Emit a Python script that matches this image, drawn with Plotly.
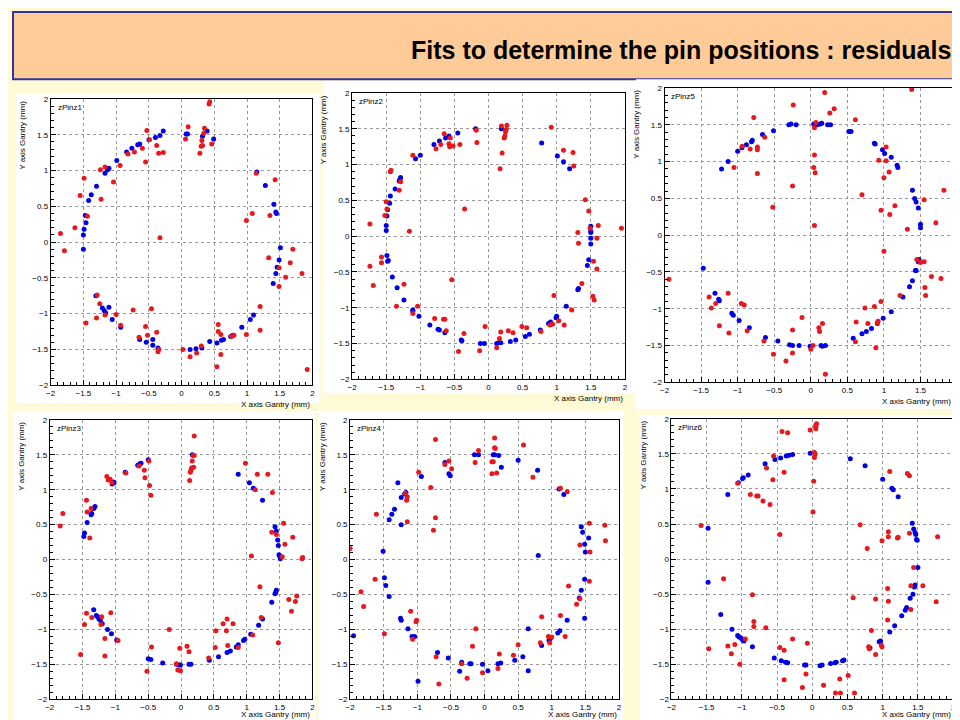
import plotly.graph_objects as go

W, H = 960, 720

pinz1_blue = [(-1.5,-0.1),(-1.5,0.1),(-1.49,0.18),(-1.46,0.27),(-1.47,0.37),(-1.42,0.58),(-1.38,0.66),(-1.3,0.78),(-1.17,0.96),(-1.13,1.01),(-1.11,1.03),(-0.99,1.14),(-0.84,1.26),(-0.76,1.31),(-0.67,1.36),(-0.64,1.37),(-0.5,1.43),(-0.4,1.46),(-0.33,1.49),(-0.28,1.55),(0.07,1.51),(0.09,1.51),(0.32,1.48),(0.39,1.55),(0.49,1.44),(1.15,0.98),(1.28,0.79),(1.41,0.53),(1.44,0.42),(1.45,0.40),(1.51,-0.08),(1.49,-0.25),(1.46,-0.35),(1.44,-0.44),(1.4,-0.58),(1.1,-1.02),(1.05,-1.08),(0.92,-1.19),(0.78,-1.3),(0.75,-1.32),(0.64,-1.36),(0.61,-1.37),(0.54,-1.41),(0.43,-1.39),(0.31,-1.48),(0.22,-1.49),(0.13,-1.5),(-0.36,-1.48),(-0.44,-1.36),(-0.44,-1.44),(-0.54,-1.4),(-0.64,-1.36),(-0.93,-1.19),(-1.06,-1.08),(-1.11,-0.91),(-1.16,-0.99),(-1.18,-0.96),(-1.21,-0.92),(-1.31,-0.75)]
pinz1_red = [(-1.85,0.12),(-1.79,-0.12),(-1.63,0.2),(-1.55,0.65),(-1.49,0.89),(-1.44,0.36),(-1.24,1.01),(-1.23,0.6),(-1.17,1.05),(-1.04,0.84),(-0.94,1.07),(-0.82,1.23),(-0.72,1.26),(-0.6,1.31),(-0.55,1.12),(-0.53,1.56),(-0.49,1.43),(-0.38,1.35),(-0.35,1.24),(-0.28,1.25),(-0.33,0.06),(0.06,1.44),(0.1,1.61),(0.28,1.24),(0.3,1.34),(0.31,1.42),(0.32,1.35),(0.35,1.59),(0.34,1.52),(0.42,1.93),(0.43,1.96),(0.46,1.37),(0.99,0.3),(1.08,0.4),(1.14,0.96),(1.43,0.87),(1.35,0.37),(1.33,-0.22),(1.49,-0.36),(1.49,-0.62),(1.59,-0.49),(1.66,-0.29),(1.7,-0.1),(1.84,-0.44),(1.92,-1.78),(1.2,-0.9),(1.2,-1.23),(0.99,-1.29),(0.8,-1.3),(0.76,-1.32),(0.6,-1.57),(0.6,-1.29),(0.56,-1.25),(0.56,-1.15),(0.54,-1.74),(0.3,-1.45),(0.23,-1.55),(0.13,-1.6),(0.02,-1.5),(-0.36,-1.53),(-0.35,-1.5),(-0.38,-1.26),(-0.46,-0.93),(-0.52,-1.3),(-0.55,-1.18),(-0.65,-1.33),(-0.74,-0.95),(-0.93,-1.16),(-1.0,-1.01),(-1.17,-1.02),(-1.25,-0.86),(-1.29,-0.74),(-1.3,-1.06),(-1.46,-1.13)]

pinz2_blue = [(-1.5,0.08),(-1.5,0.15),(-1.49,0.28),(-1.48,0.37),(-1.45,0.46),(-1.44,0.56),(-1.37,0.66),(-1.3,0.79),(-1.29,0.82),(-1.31,0.77),(-1.07,1.08),(-1.0,1.13),(-0.8,1.28),(-0.72,1.33),(-0.63,1.37),(-0.58,1.4),(-0.45,1.44),(-0.19,1.5),(0.19,1.5),(0.78,1.3),(1.01,1.12),(1.1,1.04),(1.19,0.94),(1.5,0.14),(1.5,0.07),(1.5,0.05),(1.5,-0.03),(1.5,-0.11),(1.47,-0.33),(1.45,-0.41),(1.32,-0.73),(1.31,-0.75),(1.14,-0.98),(1.0,-1.12),(0.99,-1.14),(0.91,-1.2),(0.88,-1.22),(0.76,-1.31),(0.6,-1.37),(0.54,-1.4),(0.4,-1.45),(0.32,-1.47),(0.18,-1.49),(0.15,-1.49),(0.12,-1.5),(-0.06,-1.5),(-0.12,-1.5),(-0.39,-1.46),(-0.4,-1.45),(-0.64,-1.35),(-0.72,-1.31),(-0.74,-1.3),(-0.86,-1.24),(-1.02,-1.12),(-1.11,-1.05),(-1.11,-1.03),(-1.24,-0.89),(-1.34,-0.72),(-1.41,-0.57),(-1.48,-0.35),(-1.47,-0.34),(-1.49,-0.27)]
pinz2_red = [(-1.74,0.17),(-1.74,-0.42),(-1.69,-0.69),(-1.57,-0.29),(-1.57,-0.37),(-1.52,0.29),(-1.5,0.48),(-1.49,0.38),(-1.44,0.9),(-1.43,0.92),(-1.31,0.64),(-1.29,0.76),(-1.16,0.07),(-1.11,1.13),(-0.77,1.22),(-0.7,1.28),(-0.65,1.43),(-0.58,1.29),(-0.56,1.37),(-0.57,1.25),(-0.52,1.26),(-0.42,1.28),(-0.35,0.38),(-0.18,1.48),(-0.17,1.31),(0.17,0.94),(0.19,1.54),(0.2,1.16),(0.23,1.37),(0.24,1.4),(0.25,1.46),(0.26,1.49),(0.27,1.55),(0.92,1.52),(1.1,1.2),(1.24,1.17),(1.25,0.98),(1.42,0.51),(1.47,0.35),(1.49,0.11),(1.31,0.05),(1.32,-0.1),(1.61,0.15),(1.59,-0.03),(1.95,0.11),(1.54,-0.35),(1.59,-0.46),(1.37,-0.66),(1.53,-0.84),(1.55,-0.89),(0.96,-0.83),(1.22,-1.03),(1.11,-1.24),(1.03,-1.18),(0.94,-1.23),(0.9,-1.24),(0.77,-1.33),(0.56,-1.28),(0.49,-1.26),(0.36,-1.35),(0.29,-1.32),(0.18,-1.34),(0.16,-1.43),(0.12,-1.56),(-0.13,-1.6),(-0.05,-1.26),(-0.44,-1.61),(-0.36,-1.36),(-0.54,-0.61),(-0.62,-1.32),(-0.64,-1.16),(-0.66,-1.16),(-0.79,-1.15),(-1.04,-0.98),(-1.11,-1.08),(-1.24,-0.67),(-1.35,-0.98)]

pinz5_blue = [(-1.47,-0.45),(-1.31,-0.79),(-1.26,-0.87),(-1.25,-0.89),(-1.08,-1.06),(-1.06,-1.09),(-0.98,-1.16),(-0.84,-1.26),(-0.62,-1.39),(-0.45,-1.44),(-0.29,-1.49),(-0.25,-1.5),(-0.16,-1.5),(-0.01,-1.51),(0.14,-1.5),(0.16,-1.51),(0.2,-1.5),(0.58,-1.4),(0.7,-1.34),(0.76,-1.31),(0.83,-1.27),(0.91,-1.2),(0.99,-1.13),(1.1,-1.04),(1.26,-0.84),(1.35,-0.7),(1.39,-0.62),(1.43,-0.48),(1.44,-0.48),(1.47,-0.36),(1.48,-0.33),(1.5,0.1),(1.5,0.15),(1.47,0.37),(1.44,0.45),(1.42,0.5),(1.39,0.61),(1.19,0.92),(1.18,0.95),(1.1,1.06),(1.01,1.11),(0.98,1.16),(0.88,1.24),(0.87,1.25),(0.52,1.41),(0.55,1.41),(0.27,1.5),(0.23,1.5),(0.15,1.52),(0.13,1.51),(0.09,1.5),(0.06,1.51),(0.04,1.51),(-0.2,1.5),(-0.27,1.51),(-0.3,1.5),(-0.51,1.42),(-0.66,1.37),(-0.8,1.29),(-0.81,1.27),(-0.88,1.23),(-0.94,1.19),(-1.0,1.14),(-1.13,1.0),(-1.22,0.9)]
pinz5_red = [(-1.94,-0.6),(-1.39,-0.84),(-1.36,-0.99),(-1.3,-0.93),(-1.25,-1.23),(-1.13,-0.79),(-1.12,-1.33),(-0.95,-0.93),(-0.91,-0.95),(-0.87,-1.3),(-0.64,-1.44),(-0.51,-1.62),(-0.34,-1.71),(-0.25,-1.29),(-0.25,-1.6),(-0.12,-1.12),(0.0,-1.55),(0.03,-1.5),(0.11,-1.26),(0.12,-1.31),(0.16,-1.2),(0.2,-1.89),(0.61,-1.45),(0.62,-1.18),(0.74,-0.99),(0.78,-1.2),(0.87,-0.97),(0.89,-1.53),(0.91,-1.19),(0.92,-1.17),(0.96,-0.9),(1.22,-0.82),(1.45,-0.33),(1.5,-0.37),(1.55,-0.36),(1.56,-0.71),(1.57,-0.82),(1.65,-0.56),(1.78,-0.59),(1.0,-0.22),(1.32,0.08),(1.71,0.17),(1.82,0.61),(1.55,0.48),(1.15,0.4),(1.08,0.28),(0.96,0.34),(0.7,0.55),(1.0,0.78),(1.07,0.86),(1.03,1.01),(0.93,1.02),(1.03,1.2),(0.61,1.57),(1.38,1.98),(0.32,1.72),(0.26,1.66),(0.19,1.94),(0.07,1.53),(0.05,1.46),(0.05,1.09),(0.04,0.92),(0.06,0.85),(0.05,0.13),(-0.24,1.77),(-0.25,0.67),(-0.52,0.38),(-0.63,1.33),(-0.73,1.2),(-0.73,1.16),(-0.73,0.84),(-0.78,1.6),(-0.83,1.17),(-0.94,1.21),(-1.05,0.92)]

pinz3_blue = [(-1.48,0.33),(-1.47,0.38),(-1.43,0.53),(-1.37,0.64),(-1.36,0.66),(-1.33,0.73),(-1.31,0.76),(-1.05,1.08),(-1.03,1.11),(-1.02,1.1),(-0.85,1.25),(-0.66,1.35),(-0.63,1.37),(-0.61,1.38),(-0.5,1.43),(0.17,1.5),(0.87,1.22),(1.04,1.1),(1.1,1.02),(1.24,0.85),(1.43,0.47),(1.45,0.41),(1.47,0.28),(1.48,0.2),(1.49,0.07),(1.5,0.05),(1.51,0.01),(1.45,-0.44),(1.44,-0.47),(1.43,-0.49),(1.38,-0.61),(1.24,-0.85),(1.18,-0.94),(1.06,-1.07),(0.97,-1.14),(0.95,-1.16),(0.87,-1.22),(0.84,-1.25),(0.75,-1.31),(0.7,-1.33),(0.57,-1.39),(0.43,-1.44),(0.15,-1.5),(0.12,-1.5),(-0.01,-1.51),(-0.03,-1.51),(-0.07,-1.5),(-0.28,-1.48),(-0.46,-1.43),(-0.5,-1.42),(-0.98,-1.15),(-1.06,-1.06),(-1.12,-1.0),(-1.2,-0.92),(-1.23,-0.87),(-1.25,-0.85),(-1.27,-0.82),(-1.29,-0.8),(-1.33,-0.72)]
pinz3_red = [(-1.84,0.48),(-1.8,0.66),(-1.44,0.85),(-1.43,0.68),(-1.39,0.31),(-1.37,0.73),(-1.13,1.19),(-1.11,1.14),(-1.08,1.15),(-1.05,1.1),(-0.84,1.24),(-0.64,1.34),(-0.56,1.28),(-0.55,1.17),(-0.49,1.41),(-0.48,1.06),(-0.46,0.92),(0.13,1.13),(0.14,1.25),(0.15,1.28),(0.16,1.31),(0.17,1.41),(0.18,1.49),(0.19,1.32),(0.2,1.49),(0.2,1.77),(0.98,1.38),(1.16,1.22),(1.13,1.0),(1.32,1.22),(1.39,0.96),(1.38,0.39),(1.45,0.36),(1.56,0.52),(1.58,0.22),(1.54,0.04),(1.7,0.32),(1.07,0.05),(1.84,0.01),(1.85,0.03),(1.2,-0.39),(1.64,-0.57),(1.76,-0.52),(1.74,-0.6),(1.68,-0.74),(1.48,-1.19),(1.22,-0.83),(1.09,-1.08),(0.87,-1.26),(0.79,-0.92),(0.7,-0.85),(0.69,-1.02),(0.64,-0.92),(0.71,-1.23),(0.53,-1.02),(0.52,-1.26),(0.42,-1.41),(0.12,-1.32),(0.09,-1.24),(-0.02,-1.27),(-0.07,-1.49),(-0.05,-1.58),(-0.01,-1.59),(-0.18,-1.0),(-0.45,-1.25),(-0.52,-1.6),(-0.96,-1.16),(-1.07,-0.76),(-1.16,-1.13),(-1.16,-1.38),(-1.21,-0.82),(-1.22,-0.93),(-1.36,-0.83),(-1.44,-0.77),(-1.47,-0.93),(-1.53,-1.36)]

pinz4_blue = [(-1.95,-1.09),(-1.51,0.12),(-1.49,-0.26),(-1.47,-0.37),(-1.42,-0.53),(-1.42,0.57),(-1.38,0.65),(-1.34,0.72),(-1.29,1.1),(-1.24,0.89),(-1.24,0.5),(-1.19,0.94),(-1.17,0.96),(-1.25,-0.84),(-1.24,-0.87),(-1.14,-0.99),(-1.08,-1.1),(-1.04,-1.1),(-0.99,-1.74),(-0.94,1.19),(-0.7,-1.33),(-0.59,1.39),(-0.53,1.23),(-0.51,1.2),(-0.54,-1.41),(-0.37,-1.6),(-0.34,-1.47),(-0.22,-1.49),(-0.2,-1.49),(-0.15,1.5),(-0.09,1.5),(-0.03,-1.5),(0.05,-1.59),(0.13,1.5),(0.15,1.5),(0.21,1.49),(0.25,1.32),(0.2,-1.49),(0.24,-1.48),(0.45,-1.44),(0.5,1.42),(0.57,-1.39),(0.65,-0.99),(0.65,-1.59),(0.79,1.28),(0.8,0.06),(0.85,-1.23),(0.96,-1.16),(0.98,-1.13),(1.09,-1.05),(1.12,-1.02),(1.11,1.01),(1.18,0.93),(1.23,-0.87),(1.41,-0.55),(1.44,-0.44),(1.44,0.47),(1.46,0.39),(1.49,0.22),(1.5,0.11),(1.49,-0.28),(1.49,-0.84),(1.55,0.31)]
pinz4_red = [(-2.0,0.16),(-1.84,-0.46),(-1.8,-0.67),(-1.63,-0.28),(-1.61,0.65),(-1.49,-1.06),(-1.18,0.95),(-1.16,0.85),(-1.15,0.9),(-1.15,0.54),(-1.1,-0.74),(-1.07,-1.14),(-1.02,-0.89),(-1.01,-0.87),(-0.98,1.25),(-0.8,1.03),(-0.76,0.42),(-0.73,1.72),(-0.73,0.6),(-0.72,-1.39),(-0.68,-1.78),(-0.59,1.36),(-0.53,1.41),(-0.49,1.3),(-0.34,-1.49),(-0.26,-1.7),(-0.18,-1.24),(-0.14,1.39),(-0.13,-0.99),(-0.09,1.56),(-0.03,-1.62),(0.11,1.4),(0.11,1.23),(0.13,1.4),(0.15,1.6),(0.15,1.74),(0.16,1.59),(0.18,1.24),(0.2,-1.56),(0.22,-1.35),(0.43,-1.37),(0.5,-1.22),(0.58,1.64),(0.72,1.18),(0.83,-1.19),(0.85,-0.82),(0.95,-1.1),(0.97,-1.19),(1.0,-1.11),(1.13,-0.8),(1.2,-1.1),(1.13,1.02),(1.23,0.97),(1.25,-0.38),(1.37,-0.64),(1.42,0.21),(1.42,-0.56),(1.56,0.52),(1.57,0.11),(1.56,-0.31),(1.79,0.49),(1.8,0.27)]

pinz6_blue = [(-1.48,0.44),(-1.48,-0.33),(-1.3,-0.79),(-1.2,0.92),(-1.14,-1.0),(-1.06,-1.09),(-1.04,-1.11),(-1.01,-1.13),(-0.99,-1.15),(-0.97,-1.17),(-0.85,-1.25),(-1.05,1.09),(-0.99,1.15),(-0.98,1.16),(-0.91,1.2),(-0.67,1.36),(-0.53,1.42),(-0.45,1.44),(-0.37,1.47),(-0.33,1.48),(-0.28,1.49),(-0.03,1.51),(0.54,1.43),(0.75,1.33),(1.0,1.14),(1.13,1.01),(1.15,0.99),(1.22,0.89),(1.42,0.51),(1.44,0.43),(1.46,0.38),(1.47,0.35),(1.48,0.28),(1.49,0.27),(1.5,-0.12),(1.43,-0.5),(1.45,-0.4),(1.46,-0.37),(1.39,-0.56),(1.34,-0.69),(1.32,-0.73),(1.27,-0.81),(1.17,-0.95),(1.1,-1.04),(0.97,-1.17),(0.95,-1.18),(0.82,-1.27),(0.45,-1.44),(0.43,-1.45),(0.34,-1.47),(0.32,-1.48),(0.26,-1.49),(0.14,-1.51),(0.11,-1.52),(-0.09,-1.51),(-0.11,-1.51),(-0.35,-1.48),(-0.38,-1.47),(-0.44,-1.45),(-0.54,-1.41)]
pinz6_red = [(-1.58,0.48),(-1.47,-1.28),(-1.26,-0.28),(-1.2,-1.24),(-1.15,-1.35),(-1.1,-1.22),(-1.03,-1.5),(-0.95,-1.14),(-0.85,-0.51),(-0.83,-0.89),(-0.83,-0.96),(-0.66,-0.98),(-0.46,-1.26),(-0.4,-1.3),(-0.4,-1.72),(-0.28,-1.14),(-0.14,-1.83),(-0.09,-1.64),(-0.07,-1.2),(0.16,-1.8),(0.33,-1.91),(0.39,-1.71),(0.4,-1.91),(0.51,-1.66),(0.6,-1.91),(0.58,-0.55),(0.8,-1.25),(0.81,-1.28),(0.84,-1.02),(0.9,-1.36),(0.9,-0.57),(0.98,-1.23),(0.99,-1.25),(1.07,-0.87),(1.07,-0.42),(1.08,-0.6),(1.4,-0.38),(1.4,-0.72),(1.44,-0.12),(1.57,-0.38),(1.76,-0.61),(1.78,0.32),(1.38,0.37),(1.21,0.3),(1.22,0.31),(1.08,0.32),(1.08,0.39),(0.99,0.26),(0.78,0.15),(0.68,0.49),(1.1,1.25),(1.35,1.22),(1.38,1.19),(0.01,0.67),(0.02,1.11),(0.03,1.45),(0.03,1.52),(0.04,1.5),(0.05,1.86),(0.05,1.88),(0.05,1.91),(0.06,1.93),(-0.03,1.84),(-0.35,1.8),(-0.43,1.82),(-0.4,1.24),(-0.46,0.35),(-0.55,1.47),(-0.56,1.13),(-0.6,0.78),(-0.65,1.3),(-0.7,0.83),(-0.77,0.9),(-0.79,0.9),(-0.88,0.92),(-1.06,1.08)]

panel_names = ["zPinz1", "zPinz2", "zPinz5", "zPinz3", "zPinz4", "zPinz6"]
panel_data = [(pinz1_blue, pinz1_red), (pinz2_blue, pinz2_red), (pinz5_blue, pinz5_red),
              (pinz3_blue, pinz3_red), (pinz4_blue, pinz4_red), (pinz6_blue, pinz6_red)]
plot_px = [(38, 302, 88, 378), (342, 617, 82, 372), (657, 952, 77, 375),
           (37, 302, 413, 696), (340, 611, 413, 696), (664, 948, 412, 696)]
box_px = [(3, 310, 82, 396), (313, 628, 70, 386), (628, 960, 68, 402),
          (0, 305, 404, 720), (308, 616, 404, 720), (632, 954, 408, 720)]
xtitle_off = [13, 13, 13, 9, 9, 9]

BLUE = "#0000e6"
RED = "#e6191e"
fig = go.Figure()
shapes = [
    dict(type="rect", xref="paper", yref="paper", x0=0, x1=1, y0=0, y1=1,
         fillcolor="#fffbd6", line_width=0, layer="below"),
    dict(type="rect", xref="paper", yref="paper", x0=0, x1=1, y0=1 - 68 / H, y1=1,
         fillcolor="#ffcc99", line=dict(color="#333399", width=2), layer="below"),
]
annotations = [dict(text="<b>Fits to determine the pin positions : residuals</b>",
                    xref="paper", yref="paper", x=948 / W, y=1 - 38 / H,
                    xanchor="right", yanchor="middle", showarrow=False,
                    font=dict(family="Liberation Sans", size=25, color="black"))]

for i, (name, (blue, red), (px0, px1, pyt, pyb), (bx0, bx1, byt, byb), off) in enumerate(
        zip(panel_names, panel_data, plot_px, box_px, xtitle_off)):
    n = i + 1
    xa = "x" if n == 1 else f"x{n}"
    ya = "y" if n == 1 else f"y{n}"
    shapes.append(dict(type="rect", xref="paper", yref="paper",
                       x0=bx0 / W, x1=bx1 / W, y0=1 - byb / H, y1=1 - byt / H,
                       fillcolor="white", line_width=0, layer="below"))
    for pts, col in ((blue, BLUE), (red, RED)):
        fig.add_trace(go.Scatter(x=[p[0] for p in pts], y=[p[1] for p in pts], mode="markers",
                                 marker=dict(color=col, size=5), xaxis=xa, yaxis=ya,
                                 showlegend=False, hoverinfo="skip"))
    common = dict(range=[-2, 2], dtick=0.5, tick0=-2, showgrid=True, gridcolor="#999999",
                  griddash="dot", gridwidth=1, zeroline=False, showline=True, mirror=True,
                  linecolor="black", linewidth=1, ticks="inside", ticklen=5, tickcolor="black",
                  minor=dict(dtick=0.1, ticks="inside", ticklen=3, tickcolor="black", showgrid=False),
                  tickfont=dict(size=8, family="Liberation Sans", color="black"))
    fig.layout[f"xaxis{'' if n == 1 else n}"] = dict(domain=[px0 / W, px1 / W], anchor=ya, **common)
    fig.layout[f"yaxis{'' if n == 1 else n}"] = dict(domain=[1 - pyb / H, 1 - pyt / H], anchor=xa, **common)
    annotations.append(dict(text=name, xref="paper", yref="paper", x=(px0 + 5) / W, y=1 - (pyt + 2) / H,
                            xanchor="left", yanchor="top", showarrow=False,
                            font=dict(size=8, family="Liberation Sans", color="black")))
    annotations.append(dict(text="X axis Gantry (mm)", xref="paper", yref="paper", x=min(px1, 948) / W,
                            y=1 - (pyb + off) / H, xanchor="right", yanchor="top", showarrow=False,
                            font=dict(size=8, family="Liberation Sans", color="black")))
    annotations.append(dict(text="Y axis Gantry (mm)", xref="paper", yref="paper", x=(px0 - 22) / W,
                            y=1 - pyt / H, xanchor="right", yanchor="top", textangle=-90, showarrow=False,
                            font=dict(size=8, family="Liberation Sans", color="black")))

fig.update_layout(width=W, height=H, margin=dict(l=0, r=0, t=0, b=0),
                  paper_bgcolor="#fffbd6", plot_bgcolor="white",
                  shapes=shapes, annotations=annotations)
fig.write_html("out.html")
